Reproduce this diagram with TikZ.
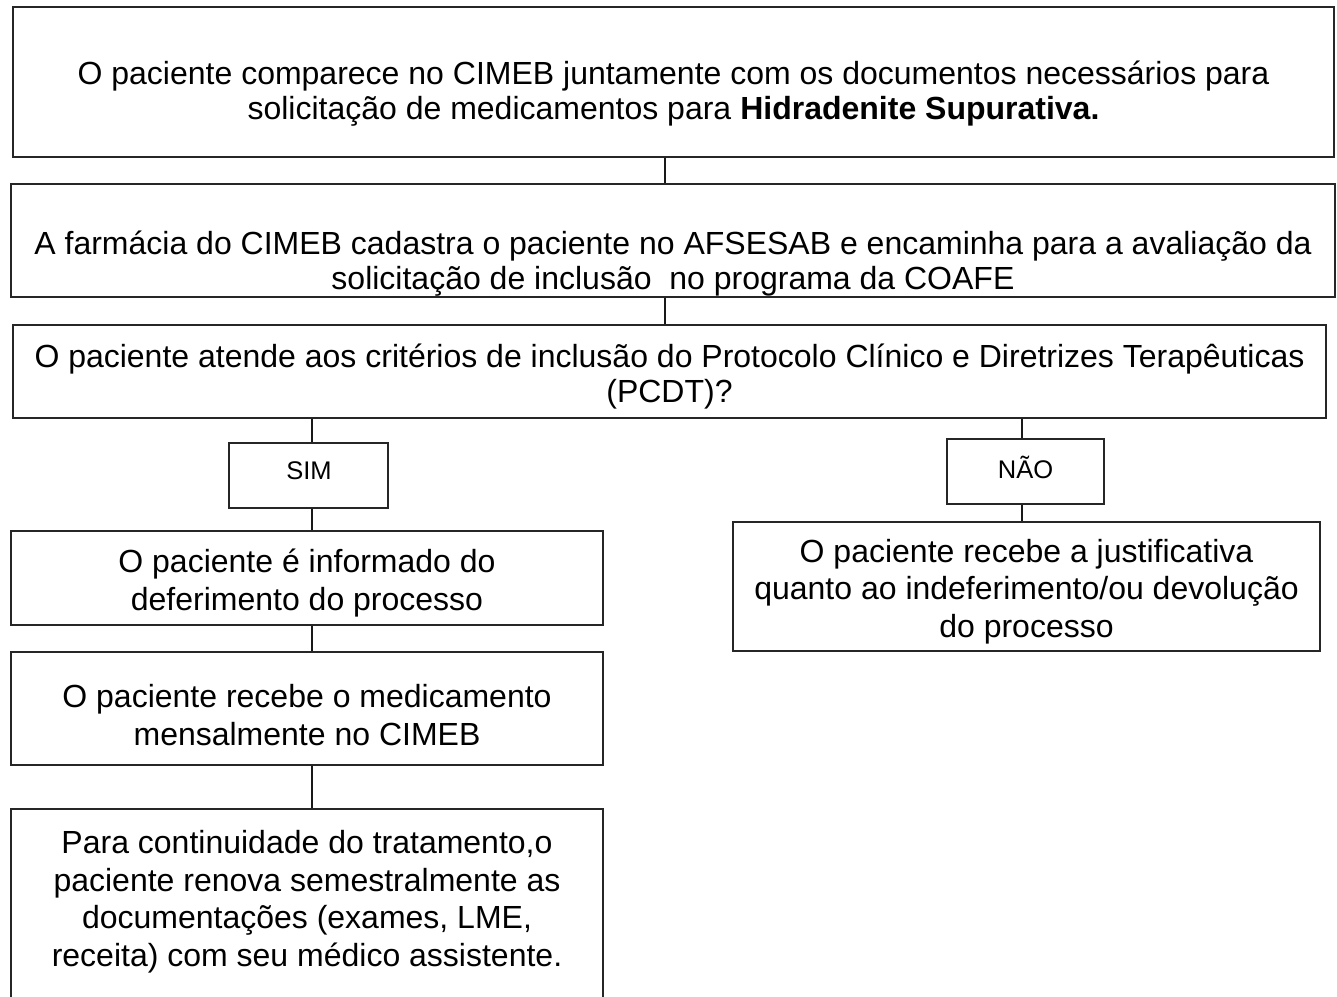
\documentclass[tikz,border=0pt]{standalone}
\usepackage{fontspec}
\setmainfont{Liberation Sans}
\begin{document}
\begin{tikzpicture}[x=1pt,y=-1pt,
  box/.style={draw=black!85, line width=1.3pt, inner sep=0pt, fill=white},
  txt/.style={align=center, font=\fontsize{32}{35}\selectfont, inner sep=0pt},
  txtb/.style={align=center, font=\fontsize{32}{37.5}\selectfont, inner sep=0pt},
  small/.style={font=\fontsize{25.5}{30}\selectfont, inner sep=0pt},
  link/.style={draw=black!90, line width=1.3pt}]
\useasboundingbox (0,0) rectangle (1337,996);
% boxes
\node[box, minimum width=1321pt, minimum height=150pt] (b1) at (673.5,82) {};
\node[box, minimum width=1324pt, minimum height=113pt] (b2) at (673,240.5) {};
\node[box, minimum width=1313pt, minimum height=93pt] (b3) at (669.5,371.5) {};
\node[box, minimum width=159pt, minimum height=65pt] (sim) at (308.5,475.5) {};
\node[box, minimum width=157pt, minimum height=65pt] (nao) at (1025.5,471.5) {};
\node[box, minimum width=592pt, minimum height=94pt] (s1) at (307,578) {};
\node[box, minimum width=592pt, minimum height=113pt] (s2) at (307,708.5) {};
\node[box, minimum width=592pt, minimum height=220pt] (s3) at (307,919) {};
\node[box, minimum width=587pt, minimum height=129pt] (n1) at (1026.5,586.5) {};
% texts
\node[small] at (309,471) {SIM};
\node[small] at (1025.5,467) {NÃO};
\node[txt] at (673.5,93.5) {O paciente comparece no CIMEB juntamente com os documentos necessários para\\ solicitação de medicamentos para \textbf{Hidradenite Supurativa.}};
\node[txt] at (673,263.5) {A farmácia do CIMEB cadastra o paciente no AFSESAB e encaminha para a avaliação da\\ solicitação de inclusão\ \ no programa da COAFE};
\node[txt] at (669.5,376.5) {O paciente atende aos critérios de inclusão do Protocolo Clínico e Diretrizes Terapêuticas\\ (PCDT)?};
\node[txtb] at (307,583) {O paciente é informado do\\ deferimento do processo};
\node[txtb] at (307,715) {O paciente recebe o medicamento\\ mensalmente no CIMEB};
\node[txtb] at (1026.5,591.5) {O paciente recebe a justificativa\\ quanto ao indeferimento/ou devolução\\ do processo};
\node[txtb] at (307,901.5) {Para continuidade do tratamento,o\\ paciente renova semestralmente as\\ documentações (exames, LME,\\ receita) com seu médico assistente.};
% connectors
\coordinate (cx) at (665,0);
\coordinate (lx) at (312,0);
\coordinate (rx) at (1022,0);
\draw[link] (b1.south -| cx) -- (b2.north -| cx);
\draw[link] (b2.south -| cx) -- (b3.north -| cx);
\draw[link] (b3.south -| lx) -- (sim.north -| lx);
\draw[link] (sim.south -| lx) -- (s1.north -| lx);
\draw[link] (s1.south -| lx) -- (s2.north -| lx);
\draw[link] (s2.south -| lx) -- (s3.north -| lx);
\draw[link] (b3.south -| rx) -- (nao.north -| rx);
\draw[link] (nao.south -| rx) -- (n1.north -| rx);
\end{tikzpicture}
\end{document}
